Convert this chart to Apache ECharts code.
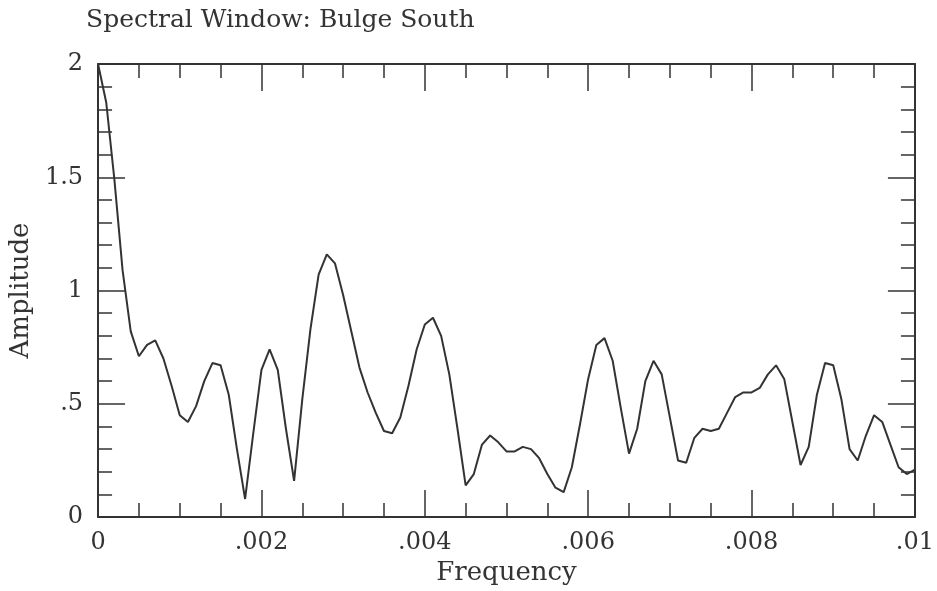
<!DOCTYPE html>
<html>
<head>
<meta charset="utf-8">
<script src="https://cdn.jsdelivr.net/npm/echarts@6/dist/echarts.min.js"></script>
<style>
html,body{margin:0;padding:0;background:#fff;}
#chart{width:937px;height:591px;}
</style>
</head>
<body>
<div id="chart"></div>
<script>
const titleText = 'Spectral Window: Bulge South';
const xName = 'Frequency';
const yName = 'Amplitude';

const frequency = [
  0.0000,0.0001,0.0002,0.0003,0.0004,0.0005,0.0006,0.0007,0.0008,0.0009,
  0.0010,0.0011,0.0012,0.0013,0.0014,0.0015,0.0016,0.0017,0.0018,0.0019,
  0.0020,0.0021,0.0022,0.0023,0.0024,0.0025,0.0026,0.0027,0.0028,0.0029,
  0.0030,0.0031,0.0032,0.0033,0.0034,0.0035,0.0036,0.0037,0.0038,0.0039,
  0.0040,0.0041,0.0042,0.0043,0.0044,0.0045,0.0046,0.0047,0.0048,0.0049,
  0.0050,0.0051,0.0052,0.0053,0.0054,0.0055,0.0056,0.0057,0.0058,0.0059,
  0.0060,0.0061,0.0062,0.0063,0.0064,0.0065,0.0066,0.0067,0.0068,0.0069,
  0.0070,0.0071,0.0072,0.0073,0.0074,0.0075,0.0076,0.0077,0.0078,0.0079,
  0.0080,0.0081,0.0082,0.0083,0.0084,0.0085,0.0086,0.0087,0.0088,0.0089,
  0.0090,0.0091,0.0092,0.0093,0.0094,0.0095,0.0096,0.0097,0.0098,0.0099,
  0.0100
];

const amplitude = [
  2.00,1.83,1.49,1.09,0.82,0.71,0.76,0.78,0.70,0.58,
  0.45,0.42,0.49,0.60,0.68,0.67,0.54,0.30,0.08,0.37,
  0.65,0.74,0.65,0.39,0.16,0.52,0.83,1.07,1.16,1.12,
  0.98,0.82,0.66,0.55,0.46,0.38,0.37,0.44,0.58,0.74,
  0.85,0.88,0.80,0.63,0.39,0.14,0.19,0.32,0.36,0.33,
  0.29,0.29,0.31,0.30,0.26,0.19,0.13,0.11,0.22,0.41,
  0.61,0.76,0.79,0.69,0.48,0.28,0.39,0.60,0.69,0.63,
  0.44,0.25,0.24,0.35,0.39,0.38,0.39,0.46,0.53,0.55,
  0.55,0.57,0.63,0.67,0.61,0.42,0.23,0.31,0.54,0.68,
  0.67,0.52,0.30,0.25,0.36,0.45,0.42,0.32,0.22,0.19,
  0.21
];

const xTickLabels = ['0', '.002', '.004', '.006', '.008', '.01'];
const yTickLabels = ['0', '.5', '1', '1.5', '2'];

const ink = '#333333';
const font = 'DejaVu Serif';

function axisCommon(extra) {
  return Object.assign({
    type: 'value',
    axisLine: { show: true, onZero: false, lineStyle: { color: ink, width: 2 } },
    axisTick: { show: true, inside: true, length: 27, lineStyle: { color: ink, width: 1.5 } },
    splitLine: { show: false },
    minorSplitLine: { show: false }
  }, extra);
}

const chart = echarts.init(document.getElementById('chart'), null, { renderer: 'canvas' });
chart.setOption({
  animation: false,
  backgroundColor: '#fff',
  title: {
    text: titleText,
    left: 81, top: 3,
    textStyle: { fontFamily: font, fontSize: 25, fontWeight: 'normal', color: ink }
  },
  grid: { left: 98, right: 21, top: 64, bottom: 72, containLabel: false },
  xAxis: [
    axisCommon({
      position: 'bottom', min: 0, max: 0.01, interval: 0.002,
      minorTick: { show: true, splitNumber: 4, length: 14, lineStyle: { color: ink, width: 1.5 } },
      name: xName, nameLocation: 'middle', nameGap: 38,
      nameTextStyle: { fontFamily: font, fontSize: 26, color: ink },
      axisLabel: {
        show: true, margin: 14, fontFamily: font, fontSize: 24, color: ink,
        formatter: (v, i) => xTickLabels[i]
      }
    }),
    axisCommon({
      position: 'top', min: 0, max: 0.01, interval: 0.002,
      minorTick: { show: true, splitNumber: 4, length: 14, lineStyle: { color: ink, width: 1.5 } },
      axisLabel: { show: false }
    })
  ],
  yAxis: [
    axisCommon({
      position: 'left', min: 0, max: 2, interval: 0.5,
      minorTick: { show: true, splitNumber: 5, length: 14, lineStyle: { color: ink, width: 1.5 } },
      name: yName, nameLocation: 'middle', nameGap: 64,
      nameTextStyle: { fontFamily: font, fontSize: 26, color: ink },
      axisLabel: {
        show: true, margin: 15, fontFamily: font, fontSize: 24, color: ink,
        formatter: (v, i) => yTickLabels[i]
      }
    }),
    axisCommon({
      position: 'right', min: 0, max: 2, interval: 0.5,
      minorTick: { show: true, splitNumber: 5, length: 14, lineStyle: { color: ink, width: 1.5 } },
      axisLabel: { show: false }
    })
  ],
  series: [{
    type: 'line',
    xAxisIndex: 0, yAxisIndex: 0,
    data: frequency.map((f, i) => [f, amplitude[i]]),
    showSymbol: false,
    symbol: 'none',
    lineStyle: { color: ink, width: 2 },
    clip: true
  }]
});
</script>
</body>
</html>
